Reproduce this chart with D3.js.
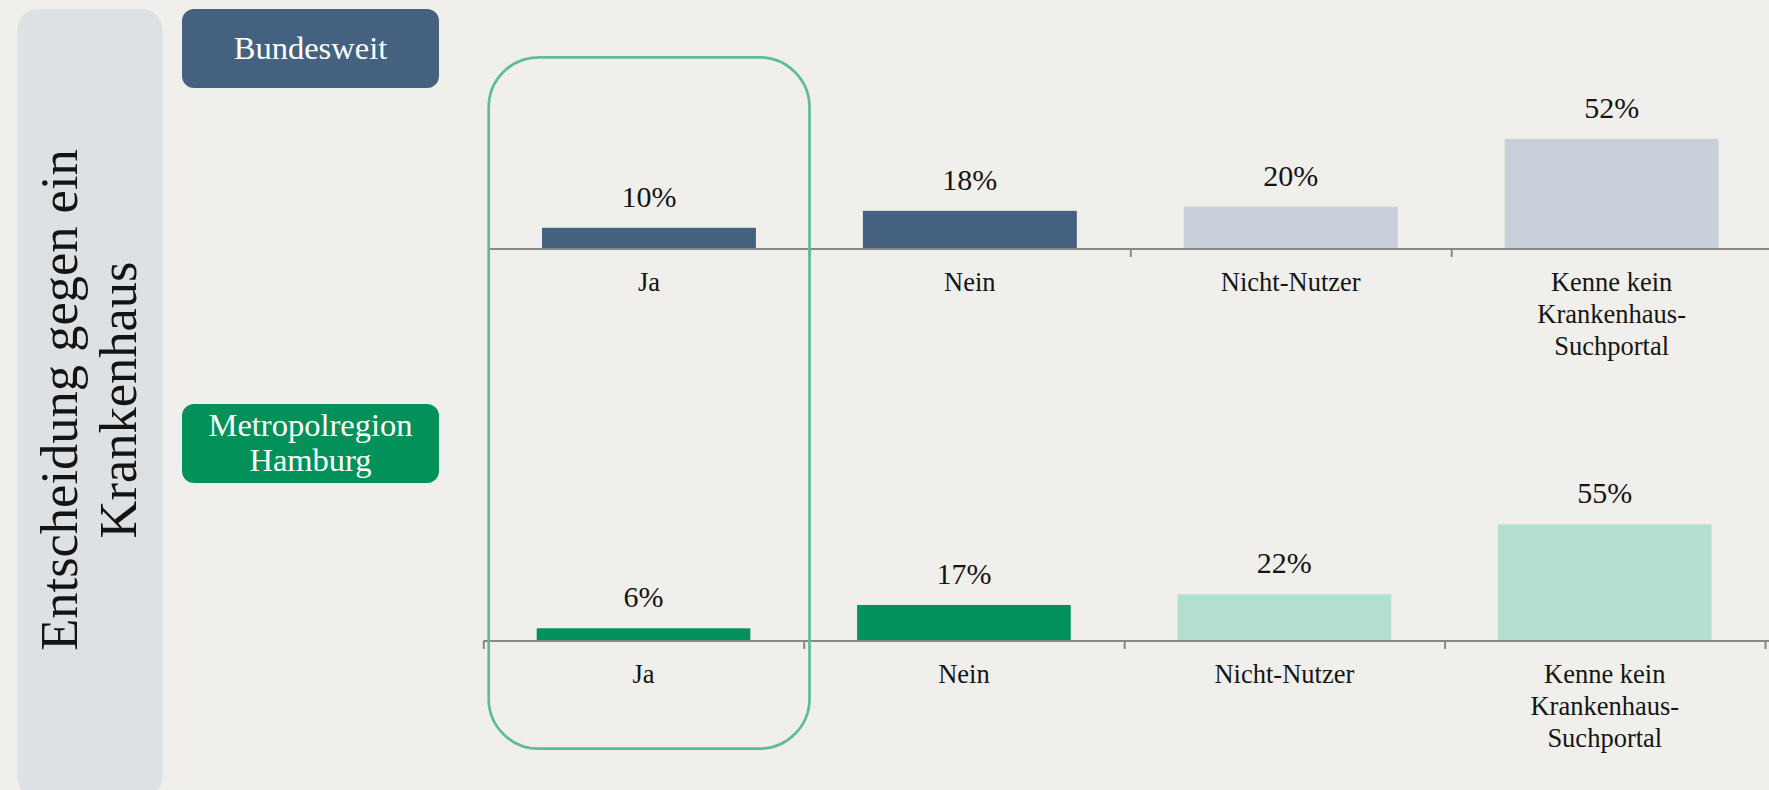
<!DOCTYPE html>
<html>
<head>
<meta charset="utf-8">
<script src="https://cdn.jsdelivr.net/npm/d3@7"></script>
<style>
  html, body { margin: 0; padding: 0; background: #f0efeb; }
  svg { display: block; }
  text { font-family: "Liberation Serif", "DejaVu Serif", serif; }
</style>
</head>
<body>
<svg id="chart" width="1769" height="790"></svg>
<script>
// ---- Data ----
const categories = ["Ja", "Nein", "Nicht-Nutzer", "Kenne kein Krankenhaus-Suchportal"];
const categoryLines = [["Ja"], ["Nein"], ["Nicht-Nutzer"], ["Kenne kein", "Krankenhaus-", "Suchportal"]];
const bundesweitValues = [10, 18, 20, 52];
const hamburgValues = [6, 17, 22, 55];
const panelTitle = ["Entscheidung gegen ein", "Krankenhaus"];
const groupLabels = [["Bundesweit"], ["Metropolregion", "Hamburg"]];
const valueSuffix = "%";

// ---- Styles ----
const bg = "#f0efeb";
const topColors = ["#44617f", "#44617f", "#c8d0da", "#c8d0da"];
const botColors = ["#03925b", "#03925b", "#b2dfce", "#b2dfce"];
const axisColor = "#878787";
const textColor = "#141414";

const svg = d3.select("#chart");
svg.append("rect").attr("width", 1769).attr("height", 790).attr("fill", bg);

// Left title panel
svg.append("rect")
  .attr("x", 17.3).attr("y", 9).attr("width", 145).attr("height", 789)
  .attr("rx", 21).attr("fill", "#dee1e4");
const title = svg.append("text")
  .attr("transform", "translate(77,400) rotate(-90)")
  .attr("text-anchor", "middle")
  .attr("font-size", 52.5)
  .attr("fill", textColor);
panelTitle.forEach((t, i) => {
  title.append("tspan").attr("x", 0).attr("y", i * 58.7).text(t);
});

// Group label boxes
const boxes = [
  { y: 9, fill: "#44617f", lines: groupLabels[0], baselines: [59] },
  { y: 404, fill: "#03915a", lines: groupLabels[1], baselines: [436, 470.7] }
];
boxes.forEach(b => {
  svg.append("rect").attr("x", 182).attr("y", b.y).attr("width", 257).attr("height", 79)
    .attr("rx", 12).attr("fill", b.fill);
  const t = svg.append("text").attr("text-anchor", "middle").attr("font-size", 32.5).attr("fill", "#ffffff");
  b.lines.forEach((l, i) => t.append("tspan").attr("x", 310.5).attr("y", b.baselines[i]).text(l));
});

// Bar panels
function drawPanel(values, colors, axisY, x0, x1, lineStart) {
  const x = d3.scaleBand().domain(categories).range([x0, x1])
    .paddingInner(1 / 3).paddingOuter(1 / 6);
  const y = d3.scaleLinear().domain([0, 100]).range([axisY, axisY - 212]);
  const boundary = d3.scaleLinear().domain([0, categories.length]).range([x0, x1]);
  const g = svg.append("g");

  g.selectAll("rect.bar").data(values).join("rect")
    .attr("class", "bar")
    .attr("x", (d, i) => x(categories[i]))
    .attr("width", x.bandwidth())
    .attr("y", d => y(d))
    .attr("height", d => y(0) - y(d))
    .attr("fill", (d, i) => colors[i]);

  g.selectAll("text.val").data(values).join("text")
    .attr("class", "val")
    .attr("x", (d, i) => x(categories[i]) + x.bandwidth() / 2)
    .attr("y", d => y(d) - 21)
    .attr("text-anchor", "middle")
    .attr("font-size", 30)
    .attr("fill", textColor)
    .text(d => d + valueSuffix);

  // axis with boundary ticks
  const axis = d3.axisBottom(boundary)
    .tickValues(d3.range(categories.length + 1))
    .tickFormat("")
    .tickSizeInner(8).tickSizeOuter(0);
  const ag = g.append("g").attr("transform", `translate(0,${axisY})`).call(axis);
  ag.select(".domain").remove();
  ag.selectAll(".tick line").attr("stroke", axisColor).attr("stroke-width", 2);
  g.append("line").attr("x1", lineStart).attr("x2", 1769).attr("y1", axisY).attr("y2", axisY)
    .attr("stroke", axisColor).attr("stroke-width", 2.2);

  // category labels
  categories.forEach((c, i) => {
    const t = g.append("text").attr("text-anchor", "middle").attr("font-size", 26.5).attr("fill", textColor);
    categoryLines[i].forEach((l, j) => {
      t.append("tspan").attr("x", x(c) + x.bandwidth() / 2).attr("y", axisY + 42 + j * 32).text(l);
    });
  });
}

drawPanel(bundesweitValues, topColors, 249, 488.5, 1772.1, 489);
drawPanel(hamburgValues, botColors, 641, 483.3, 1765, 483.3);

// Highlight box around "Ja"
svg.append("rect")
  .attr("x", 488.7).attr("y", 57.3).attr("width", 320.8).attr("height", 691.4)
  .attr("rx", 50).attr("fill", "none")
  .attr("stroke", "#5dbd95").attr("stroke-width", 2.7);
</script>
</body>
</html>
